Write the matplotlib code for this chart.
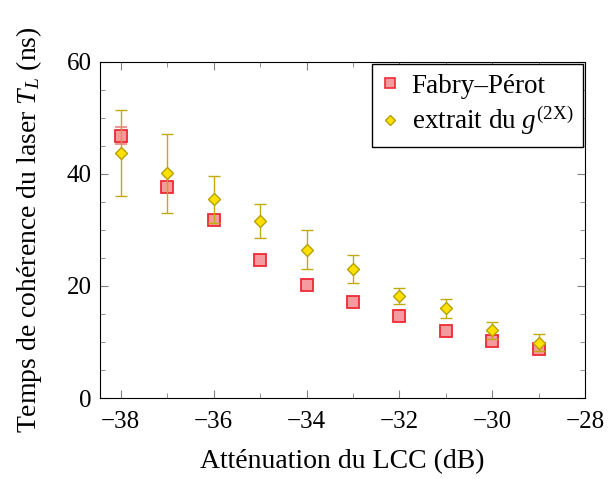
import numpy as np
import matplotlib
matplotlib.use("Agg")
from matplotlib import pyplot as plt
from matplotlib.ticker import MultipleLocator
from matplotlib.lines import Line2D

plt.rcParams['font.family'] = ['Liberation Serif', 'DejaVu Serif']
plt.rcParams['mathtext.fontset'] = 'custom'
plt.rcParams['mathtext.rm'] = 'Liberation Serif'
plt.rcParams['mathtext.it'] = 'Liberation Serif:italic'

# données
att = [-38, -37, -36, -35, -34, -33, -32, -31, -30, -29]
fp = [46.8, 37.6, 31.8, 24.6, 20.2, 17.2, 14.7, 11.9, 10.2, 8.75]
fp_err = [1.5, 0.8, 0.4, 0.3, 0.3, 0.3, 0.3, 0.3, 0.3, 0.3]
g2 = [43.7, 40.1, 35.5, 31.6, 26.5, 23.0, 18.2, 16.0, 12.1, 9.9]
g2_err = [7.7, 7.0, 4.2, 3.0, 3.5, 2.5, 1.5, 1.7, 1.5, 1.45]

fig, ax = plt.subplots(figsize=(6.09, 4.79), dpi=100)
fig.subplots_adjust(left=0.164, right=0.961, top=0.871, bottom=0.169)

ax.errorbar(att, fp, yerr=fp_err, ls=' ', marker='s', markersize=8,
            mfc='#f59a9f', mec='#ee2a35', mew=1.3, ecolor='#f08a90',
            elinewidth=1.0, capsize=4, zorder=3)
ax.errorbar(att, g2, yerr=g2_err, ls=' ', marker='D', markersize=6.5,
            mfc='#ffe100', mec='#b8a000', mew=1.0, ecolor='#c0aa10',
            elinewidth=1.0, capsize=4, zorder=4)

ax.set_xlim(-38.45, -28)
ax.set_ylim(0, 60)
ax.xaxis.set_major_locator(MultipleLocator(2))
ax.xaxis.set_minor_locator(MultipleLocator(1))
ax.yaxis.set_major_locator(MultipleLocator(20))
ax.yaxis.set_minor_locator(MultipleLocator(5))
ax.tick_params(which='both', direction='in', top=True, right=True, color='#808080', labelsize=18)
ax.tick_params(which='major', length=6)
ax.tick_params(which='minor', length=3.5)
ax.tick_params(axis='x', pad=9)
ax.tick_params(axis='y', pad=6)

ax.set_xlabel('Atténuation du LCC (dB)', fontsize=20, labelpad=12)
ax.set_ylabel('Temps de cohérence du laser $T_L$ (ns)', fontsize=20, labelpad=16)

handles = [
    Line2D([], [], ls=' ', marker='s', markersize=6.5, mfc='#f59a9f', mec='#ee2a35', mew=1.2),
    Line2D([], [], ls=' ', marker='D', markersize=5, mfc='#ffe100', mec='#b8a000', mew=1.0),
]
labels = ['Fabry–Pérot', 'extrait du $g^{(2\\mathrm{X})}$']
leg = ax.legend(handles, labels, loc='upper right', fontsize=19.5, fancybox=False, framealpha=1,
                edgecolor='black', handlelength=0.6, handletextpad=0.5,
                borderaxespad=0.1, borderpad=0.35, labelspacing=0.2)
leg.get_frame().set_linewidth(1.0)

fig.savefig('out.png', dpi=100)
